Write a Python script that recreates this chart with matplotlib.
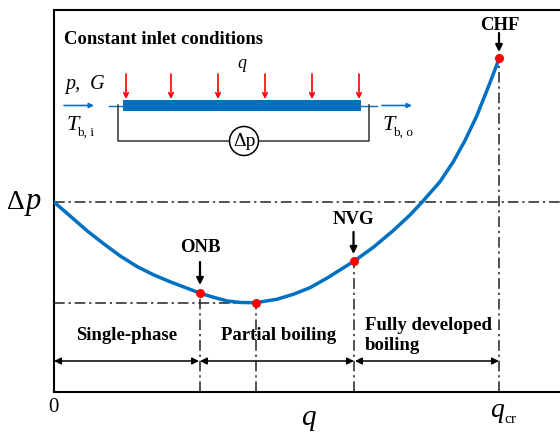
import matplotlib
matplotlib.use("Agg")
import matplotlib.pyplot as plt
from matplotlib.patches import Circle, Rectangle

plt.rcParams["font.family"] = ["Liberation Serif", "DejaVu Serif"]

# curve, units are pixels from the axes corner
q_vals = [0, 16.7, 33.3, 50, 66.7, 83.3, 100, 116.7, 133.3, 145.7, 156.7, 173.3, 186.7,
          201.7, 222.7, 239.3, 256, 272.7, 300.3, 319.3, 339.3, 356, 367.7, 386, 399.3,
          411, 422.7, 434.3, 445.3]
dp_vals = [190, 175.5, 161, 148, 135.7, 125.3, 117, 110, 103.7, 99, 95.5, 91, 89.5,
           89.3, 92.7, 97.7, 104.3, 113.7, 131, 144.7, 161.5, 177, 189.5, 210.3, 230.3,
           251.5, 276, 305, 333.7]

point_q = [145.7, 201.7, 300.3, 445.3]
point_dp = [99, 89.3, 131, 333.7]
region_names = ["Single-phase", "Partial boiling", "Fully developed\nboiling"]
heat_arrow_x = [126, 171, 218, 265, 312, 359]

blue = "#0070C0"
red = "#FF0000"

fig = plt.figure(figsize=(5.6, 4.32), dpi=100)
ax = fig.add_axes([54 / 560, 40 / 432, 506 / 560, 382 / 432])
ax.set_xlim(0, 506)
ax.set_ylim(0, 382)
ax.set_xticks([])
ax.set_yticks([])
ax.spines["right"].set_visible(False)
for s in ["left", "top", "bottom"]:
    ax.spines[s].set_linewidth(1.5)

dd = (0, (7, 2.5, 1.5, 2.5))
ax.plot([0, 506], [190, 190], color="#222222", lw=1.1, ls=dd)
ax.plot([0, point_q[1]], [point_dp[1], point_dp[1]], color="#222222", lw=1.1, ls=dd)
for q0, dp0 in zip(point_q, point_dp):
    ax.plot([q0, q0], [0, dp0], color="#222222", lw=1.1, ls=dd)

ax.plot(q_vals, dp_vals, color=blue, lw=2.5, solid_capstyle="round", solid_joinstyle="round", zorder=3)
ax.scatter(point_q, point_dp, s=30, color=red, zorder=4)

# overlay in image pixels for the annotations and the schematic
ov = fig.add_axes([0, 0, 1, 1], facecolor="none")
ov.set_xlim(0, 560)
ov.set_ylim(432, 0)
ov.axis("off")


def arrow(x0, y0, x1, y1, color="black", lw=1.2, style="-|>", ms=9):
    ov.annotate("", xy=(x1, y1), xytext=(x0, y0),
                arrowprops=dict(arrowstyle=style, color=color, lw=lw, mutation_scale=ms,
                                shrinkA=0, shrinkB=0))


# region arrows
for x0, x1 in [(54, 199), (200, 354), (355, 499)]:
    arrow(x0, 361, x1, 361, style="<|-|>", lw=1.1, ms=10)

ov.text(127, 335, region_names[0], fontsize=13.5, fontweight="bold", ha="center", va="center")
ov.text(278.5, 335, region_names[1], fontsize=13.5, fontweight="bold", ha="center", va="center")
ov.text(365, 335.5, region_names[2], fontsize=13.5, fontweight="bold", ha="left", va="center",
        linespacing=1.28)

# point labels
for name, x, y, y0, y1 in [("ONB", 200, 248, 262, 285), ("NVG", 353.5, 220, 232, 254),
                           ("CHF", 500, 25, 33, 52)]:
    ov.text(x, y, name, fontsize=13.5, fontweight="bold", ha="center", va="center")
    arrow(x if name != "CHF" else 499, y0, x if name != "CHF" else 499, y1, lw=1.6, ms=10)

# axis labels
ov.text(7, 209, "\u0394", fontsize=20, ha="left", va="baseline")
ov.text(26, 209, "p", fontsize=22, style="italic", ha="left", va="baseline")
ov.text(53, 407, "0", fontsize=15, ha="center", va="center")
ov.text(308, 425, "q", fontsize=21, style="italic", ha="center", va="baseline")
ov.text(497, 417, "q", fontsize=20, style="italic", ha="center", va="baseline")
ov.text(504, 423, "cr", fontsize=11, ha="left", va="baseline")

# schematic
ov.text(64, 40, "Constant inlet conditions", fontsize=13.4, fontweight="bold", ha="left", va="center")
ov.text(242, 64, "q", fontsize=13, style="italic", ha="center", va="center")
ov.text(65, 85, "p,  G", fontsize=14.5, style="italic", ha="left", va="center")
ov.text(67, 125, "T", fontsize=16, style="italic", ha="left", va="center")
ov.text(77, 133, "b, i", fontsize=9.5, ha="left", va="center")
ov.text(383, 125, "T", fontsize=16, style="italic", ha="left", va="center")
ov.text(393, 133, "b, o", fontsize=9.5, ha="left", va="center")

ov.add_patch(Rectangle((123, 100), 238, 11, color=blue, lw=0))
ov.plot([109, 123], [105.5, 105.5], color=blue, lw=1)
ov.plot([361, 377], [105.5, 105.5], color=blue, lw=1)
arrow(64, 105.5, 94, 105.5, color=blue, lw=1.2, ms=7)
arrow(382, 105.5, 412, 105.5, color=blue, lw=1.2, ms=7)
for x in heat_arrow_x:
    arrow(x, 74, x, 99, color=red, lw=1.2, style="->", ms=8)

ov.plot([118, 118, 229], [105, 141, 141], color="#333333", lw=1.1)
ov.plot([259, 369, 369], [141, 141, 105], color="#333333", lw=1.1)
ov.add_patch(Circle((244, 141), 14.5, fc="white", ec="black", lw=1.1, zorder=3))
ov.text(244, 141, "\u0394p", fontsize=14, ha="center", va="center", zorder=4)

fig.savefig("out.png", dpi=100)
